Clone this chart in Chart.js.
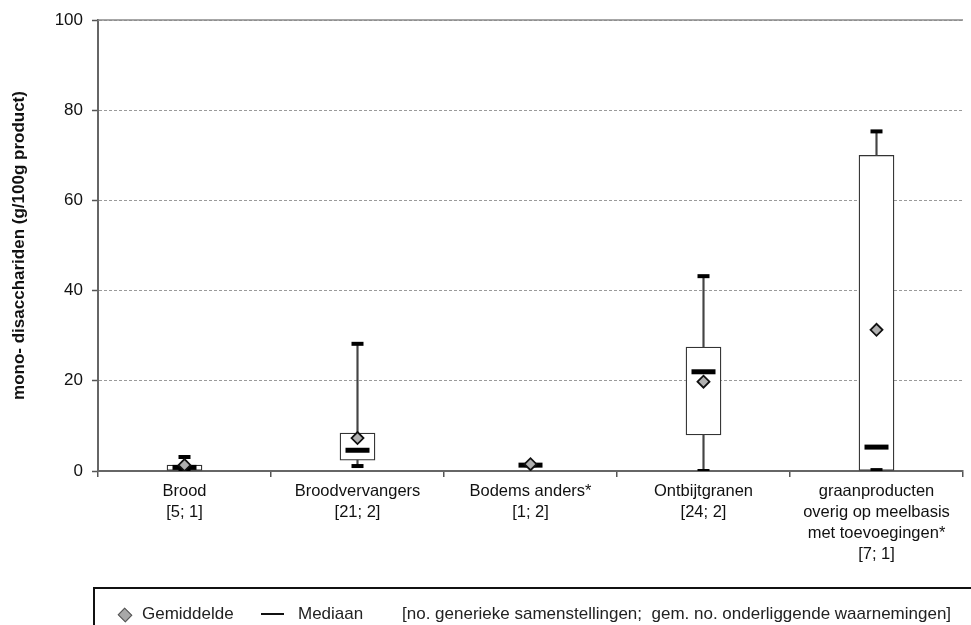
<!DOCTYPE html>
<html>
<head>
<meta charset="utf-8">
<script src="https://cdn.jsdelivr.net/npm/chart.js@4/dist/chart.umd.min.js"></script>
<style>
  html, body { margin: 0; padding: 0; background: #fff; }
  #wrap { position: relative; width: 971px; height: 625px; font-family: "Liberation Sans", Arial, sans-serif; }
  #legendBox { position: absolute; left: 93px; top: 587px; width: 878px; height: 40px;
    border-top: 2px solid #111; border-left: 2px solid #111; box-sizing: border-box; }
  .item { position: absolute; top: 15px; font-size: 17px; color: #222; white-space: nowrap; line-height: 20px; }
  .diamond { position: absolute; left: 25px; top: 21px; width: 8px; height: 8px; background: #a8a8a8;
    border: 1px solid #555; transform: rotate(45deg) scaleX(1.1); }
  .dash { position: absolute; left: 166px; top: 24px; width: 23px; height: 2px; background: #111; }
</style>
</head>
<body>
<div id="wrap">
  <canvas id="boxChart" width="971" height="625"></canvas>
  <div id="legendBox">
    <div class="diamond"></div>
    <div class="item" style="left:47px">Gemiddelde</div>
    <div class="dash"></div>
    <div class="item" style="left:203px">Mediaan</div>
    <div class="item" style="left:307px">[no. generieke samenstellingen;&nbsp; gem. no. onderliggende waarnemingen]</div>
  </div>
</div>
<script>
// categories and statistics per group
const categories = [
    ['Brood', '[5; 1]'],
    ['Broodvervangers', '[21; 2]'],
    ['Bodems anders*', '[1; 2]'],
    ['Ontbijtgranen', '[24; 2]'],
    ['graanproducten', 'overig op meelbasis', 'met toevoegingen*', '[7; 1]']
];
const minVals    = [0,   1.1, 1.3, 0,    0.2];
const q1Vals     = [0,   2.4, 1.3, 8.0,  0];
const medianVals = [0.8, 4.6, 1.3, 22.0, 5.3];
const q3Vals     = [1.3, 8.4, 1.3, 27.5, 70.0];
const maxVals    = [3.1, 28.2, 1.3, 43.2, 75.3];
const meanVals   = [1.3, 7.3, 1.5, 19.8, 31.3];
const yTicks     = [0, 20, 40, 60, 80, 100];

const font = 'Liberation Sans';

// solid frame line on top of the plot area
const topLine = {
    id: 'topLine',
    afterDraw(chart) {
        const { ctx, chartArea } = chart;
        ctx.save();
        ctx.strokeStyle = '#8a8a8a';
        ctx.lineWidth = 1.5;
        ctx.beginPath();
        ctx.moveTo(chartArea.left, chartArea.top);
        ctx.lineTo(chartArea.right, chartArea.top);
        ctx.stroke();
        ctx.restore();
    }
};

const ctx = document.getElementById('boxChart').getContext('2d');
new Chart(ctx, {
    type: 'bar',
    data: {
        labels: categories,
        datasets: [
            {
                type: 'line', label: 'mean', data: meanVals, order: 0,
                showLine: false, pointStyle: 'rectRot', pointRadius: 6,
                pointBackgroundColor: '#b0b0b0', pointBorderColor: '#111', pointBorderWidth: 1.8
            },
            {
                type: 'line', label: 'median', data: medianVals, order: 1,
                showLine: false, pointStyle: 'line', pointRadius: 12,
                pointBorderColor: '#000', pointBorderWidth: 5
            },
            {
                type: 'line', label: 'max', data: maxVals, order: 2,
                showLine: false, pointStyle: 'line', pointRadius: 6,
                pointBorderColor: '#000', pointBorderWidth: 4
            },
            {
                type: 'line', label: 'min', data: minVals, order: 2,
                showLine: false, pointStyle: 'line', pointRadius: 6,
                pointBorderColor: '#000', pointBorderWidth: 4
            },
            {
                label: 'upper whisker', data: q3Vals.map((v, i) => [v, maxVals[i]]), order: 3,
                grouped: false, barThickness: 1.5, backgroundColor: '#444', borderWidth: 0
            },
            {
                label: 'lower whisker', data: minVals.map((v, i) => [v, q1Vals[i]]), order: 3,
                grouped: false, barThickness: 1.5, backgroundColor: '#444', borderWidth: 0
            },
            {
                label: 'box', data: q1Vals.map((v, i) => [v, q3Vals[i]]), order: 4,
                grouped: false, barThickness: 35, backgroundColor: '#fff',
                borderColor: '#333', borderWidth: 1.3, borderSkipped: false
            }
        ]
    },
    options: {
        responsive: false,
        animation: false,
        layout: { autoPadding: false, padding: { top: 20, right: 8, left: 0, bottom: 0 } },
        plugins: {
            legend: { display: false },
            tooltip: { enabled: false }
        },
        scales: {
            x: {
                afterFit: (scale) => {
                    scale.height = 154;
                    scale.paddingLeft = 0;
                    scale.paddingRight = 0;
                },
                grid: { offset: true, drawOnChartArea: false, tickLength: 6, color: '#555', lineWidth: 1.5 },
                border: { color: '#666', width: 2 },
                ticks: {
                    color: '#111', padding: 4, maxRotation: 0, autoSkip: false,
                    font: { family: font, size: 16.5, lineHeight: 1.28 }
                }
            },
            y: {
                min: 0, max: 100,
                afterFit: (scale) => { scale.width = 98; },
                afterBuildTicks: (scale) => { scale.ticks = yTicks.map(v => ({ value: v })); },
                grid: { color: '#9a9a9a', lineWidth: 1, tickLength: 6, tickColor: '#555', tickWidth: 1.5 },
                border: { color: '#666', width: 2, dash: [3, 2] },
                ticks: { color: '#111', padding: 9, font: { family: font, size: 17 } },
                title: {
                    display: true, text: 'mono- disacchariden (g/100g product)',
                    color: '#111', font: { family: font, size: 17, weight: 'bold' },
                    padding: { top: 9, bottom: 0 }
                }
            }
        }
    },
    plugins: [topLine]
});
</script>
</body>
</html>
